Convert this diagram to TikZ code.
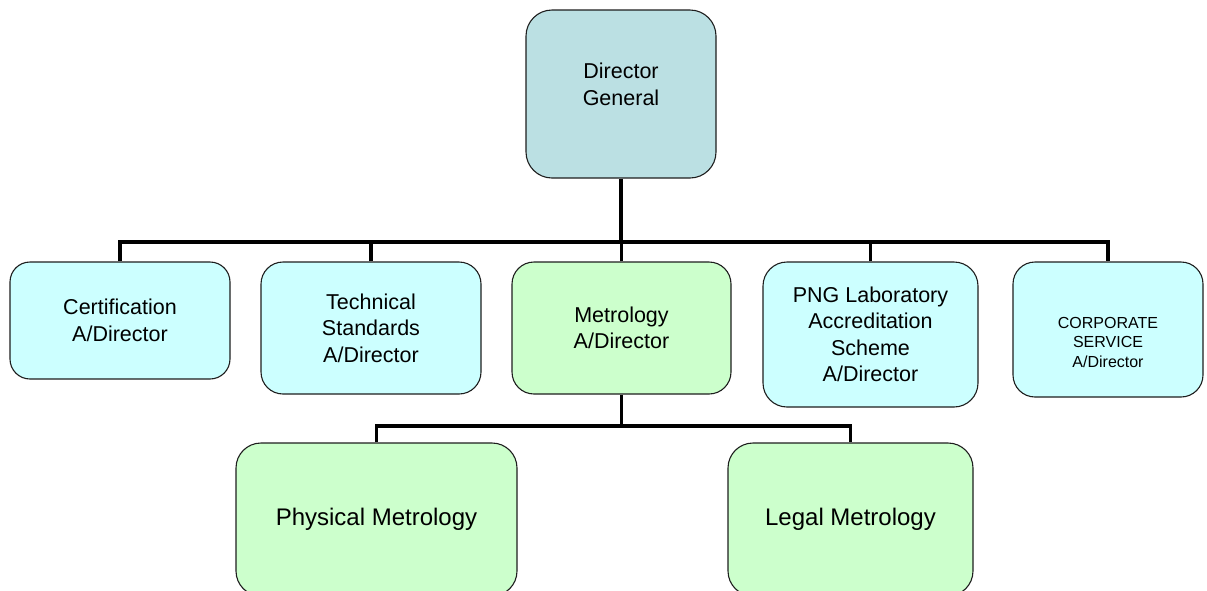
\documentclass[tikz,border=0pt]{standalone}
\usepackage{fontspec}
\setmainfont{Liberation Sans}
\definecolor{dgfill}{RGB}{187,224,227}
\definecolor{cyanfill}{RGB}{204,255,255}
\definecolor{greenfill}{RGB}{204,255,204}
\definecolor{edge}{RGB}{30,30,30}
\tikzset{
  box/.style={draw=edge, line width=1.1pt, rectangle, inner sep=0pt, align=center,
    font=\fontsize{21.5}{26.5}\selectfont},
  cbox/.style={box, fill=cyanfill},
  gbox/.style={box, fill=greenfill, font=\fontsize{24}{29}\selectfont},
  conn/.style={line width=3.8pt, draw=black}
}
\begin{document}
\begin{tikzpicture}[x=1pt,y=-1pt]
\useasboundingbox (0,0) rectangle (1207,590);
\begin{scope}
\clip (0,0) rectangle (1207,590);
% connectors
\coordinate (bus) at (0,242);
\coordinate (lbus) at (0,426);
\node[box, fill=dgfill, minimum width=190pt, minimum height=168pt, rounded corners=26pt,
  label={[align=center, font=\fontsize{21.5}{27}\selectfont, yshift=10pt]center:Director\\General}] (dg) at (621,94) {};
\node[cbox, minimum width=220pt, minimum height=117pt, rounded corners=20pt] (cert) at (120,320.5) {Certification\\A/Director};
\node[cbox, minimum width=220pt, minimum height=132pt, rounded corners=22pt] (tech) at (371,328) {Technical\\Standards\\A/Director};
\node[box, fill=greenfill, minimum width=219pt, minimum height=132pt, rounded corners=22pt] (metro) at (621.5,328) {Metrology\\A/Director};
\node[cbox, minimum width=215pt, minimum height=145pt, rounded corners=24pt] (png) at (870.5,334.5) {PNG Laboratory\\Accreditation\\Scheme\\A/Director};
\node[cbox, minimum width=190pt, minimum height=135pt, rounded corners=22pt,
  label={[align=center, font=\fontsize{16}{19.5}\selectfont, yshift=-12.5pt]center:CORPORATE\\SERVICE\\A/Director}] (corp) at (1108,329.5) {};
\node[gbox, minimum width=281pt, minimum height=153pt, rounded corners=25pt] (phys) at (376.5,519.5) {Physical Metrology};
\node[gbox, minimum width=245pt, minimum height=153pt, rounded corners=25pt] (legal) at (850.5,519.5) {Legal Metrology};
\draw[conn] (dg.south) -- (dg.south |- bus);
\draw[conn] (cert.north) -- (cert.north |- bus) -- (corp.north |- bus) -- (corp.north);
\draw[conn] (tech.north) -- (tech.north |- bus);
\draw[conn] (metro.north) -- (metro.north |- bus);
\draw[conn] (png.north) -- (png.north |- bus);
\draw[conn] (metro.south) -- (metro.south |- lbus);
\draw[conn] (phys.north) -- (phys.north |- lbus) -- (legal.north |- lbus) -- (legal.north);
\end{scope}
\end{tikzpicture}
\end{document}
